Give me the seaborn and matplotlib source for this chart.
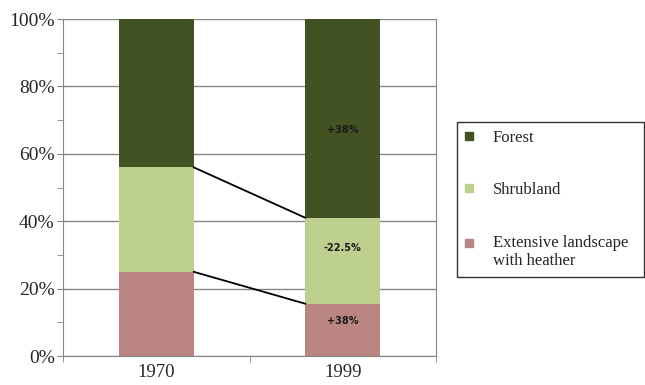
import matplotlib
matplotlib.use("Agg")
import matplotlib.pyplot as plt
from matplotlib.lines import Line2D
from matplotlib.ticker import MultipleLocator, PercentFormatter
import seaborn as sns
import numpy as np

# data (percent of area)
years = ["1970", "1999"]
heather = [25.0, 15.5]
shrubland = [31.0, 25.5]
forest = [44.0, 59.0]
series_names = ["Forest", "Shrubland", "Extensive landscape\nwith heather"]
colors = ["#435223", "#bdd08f", "#bb8583"]
change_labels = ["+38%", "-22.5%", "+38%"]
label_y = [67.0, 32.0, 10.5]

sns.set_style("white")
plt.rcParams["font.family"] = ["Liberation Serif", "DejaVu Serif"]

fig = plt.figure(figsize=(6.45, 3.85), dpi=100)
ax = fig.add_axes([0.0977, 0.0753, 0.5783, 0.8753])

cum_heather = np.array(heather)
cum_shrub = cum_heather + np.array(shrubland)
cum_forest = cum_shrub + np.array(forest)

bar_w = 0.4
for vals, col in zip([cum_forest, cum_shrub, cum_heather], colors):
    sns.barplot(x=years, y=vals, color=col, width=bar_w, saturation=1,
                linewidth=0, edgecolor="none", ax=ax, zorder=3)

# connector lines between bars
half = bar_w / 2
for cum in [cum_shrub, cum_heather]:
    ax.plot([0 + half, 1 - half], [cum[0], cum[1]], color="black", lw=1.3,
            zorder=4)

for txt, y in zip(change_labels, label_y):
    ax.text(1, y, txt, ha="center", va="center", fontsize=7,
            fontweight="bold", family="DejaVu Sans", color="#1a1a1a", zorder=5)

ax.set_xlim(-0.5, 1.5)
ax.set_ylim(0, 100)
ax.yaxis.set_major_locator(MultipleLocator(20))
ax.yaxis.set_minor_locator(MultipleLocator(10))
ax.yaxis.set_major_formatter(PercentFormatter(decimals=0))
ax.set_xticks([-0.5, 0.5, 1.5], minor=True)
ax.tick_params(axis="x", which="major", length=0, labelsize=13.5, pad=6)
ax.tick_params(axis="x", which="minor", length=4, color="#868686",
               direction="out", bottom=True)
ax.tick_params(axis="y", which="both", length=4, color="#868686",
               direction="out", left=True, labelsize=14, pad=2)
ax.grid(axis="y", which="major", color="#868686", lw=1, zorder=0)
ax.set_axisbelow(True)
for s in ["left", "bottom", "right"]:
    ax.spines[s].set_visible(True)
    ax.spines[s].set_color("#868686")
ax.spines["top"].set_visible(False)
ax.set_xlabel("")
ax.set_ylabel("")

handles = [Line2D([], [], marker="s", ls="", markersize=5.5, color=c)
           for c in colors]
leg = fig.legend(handles, series_names, loc="upper left",
                 bbox_to_anchor=(0.7085, 0.281, 0.29, 0.402), mode="expand",
                 borderaxespad=0, frameon=True, fancybox=False,
                 edgecolor="black", fontsize=12, labelspacing=2.2,
                 handletextpad=1.2, borderpad=0.45, handlelength=0.5)
leg.get_frame().set_linewidth(1.0)
# align the last marker with the first line of its two-line label
last = leg.legend_handles[2]
last.set_ydata(np.asarray(last.get_ydata()) + 7.0)

fig.savefig("out.png", dpi=100)
